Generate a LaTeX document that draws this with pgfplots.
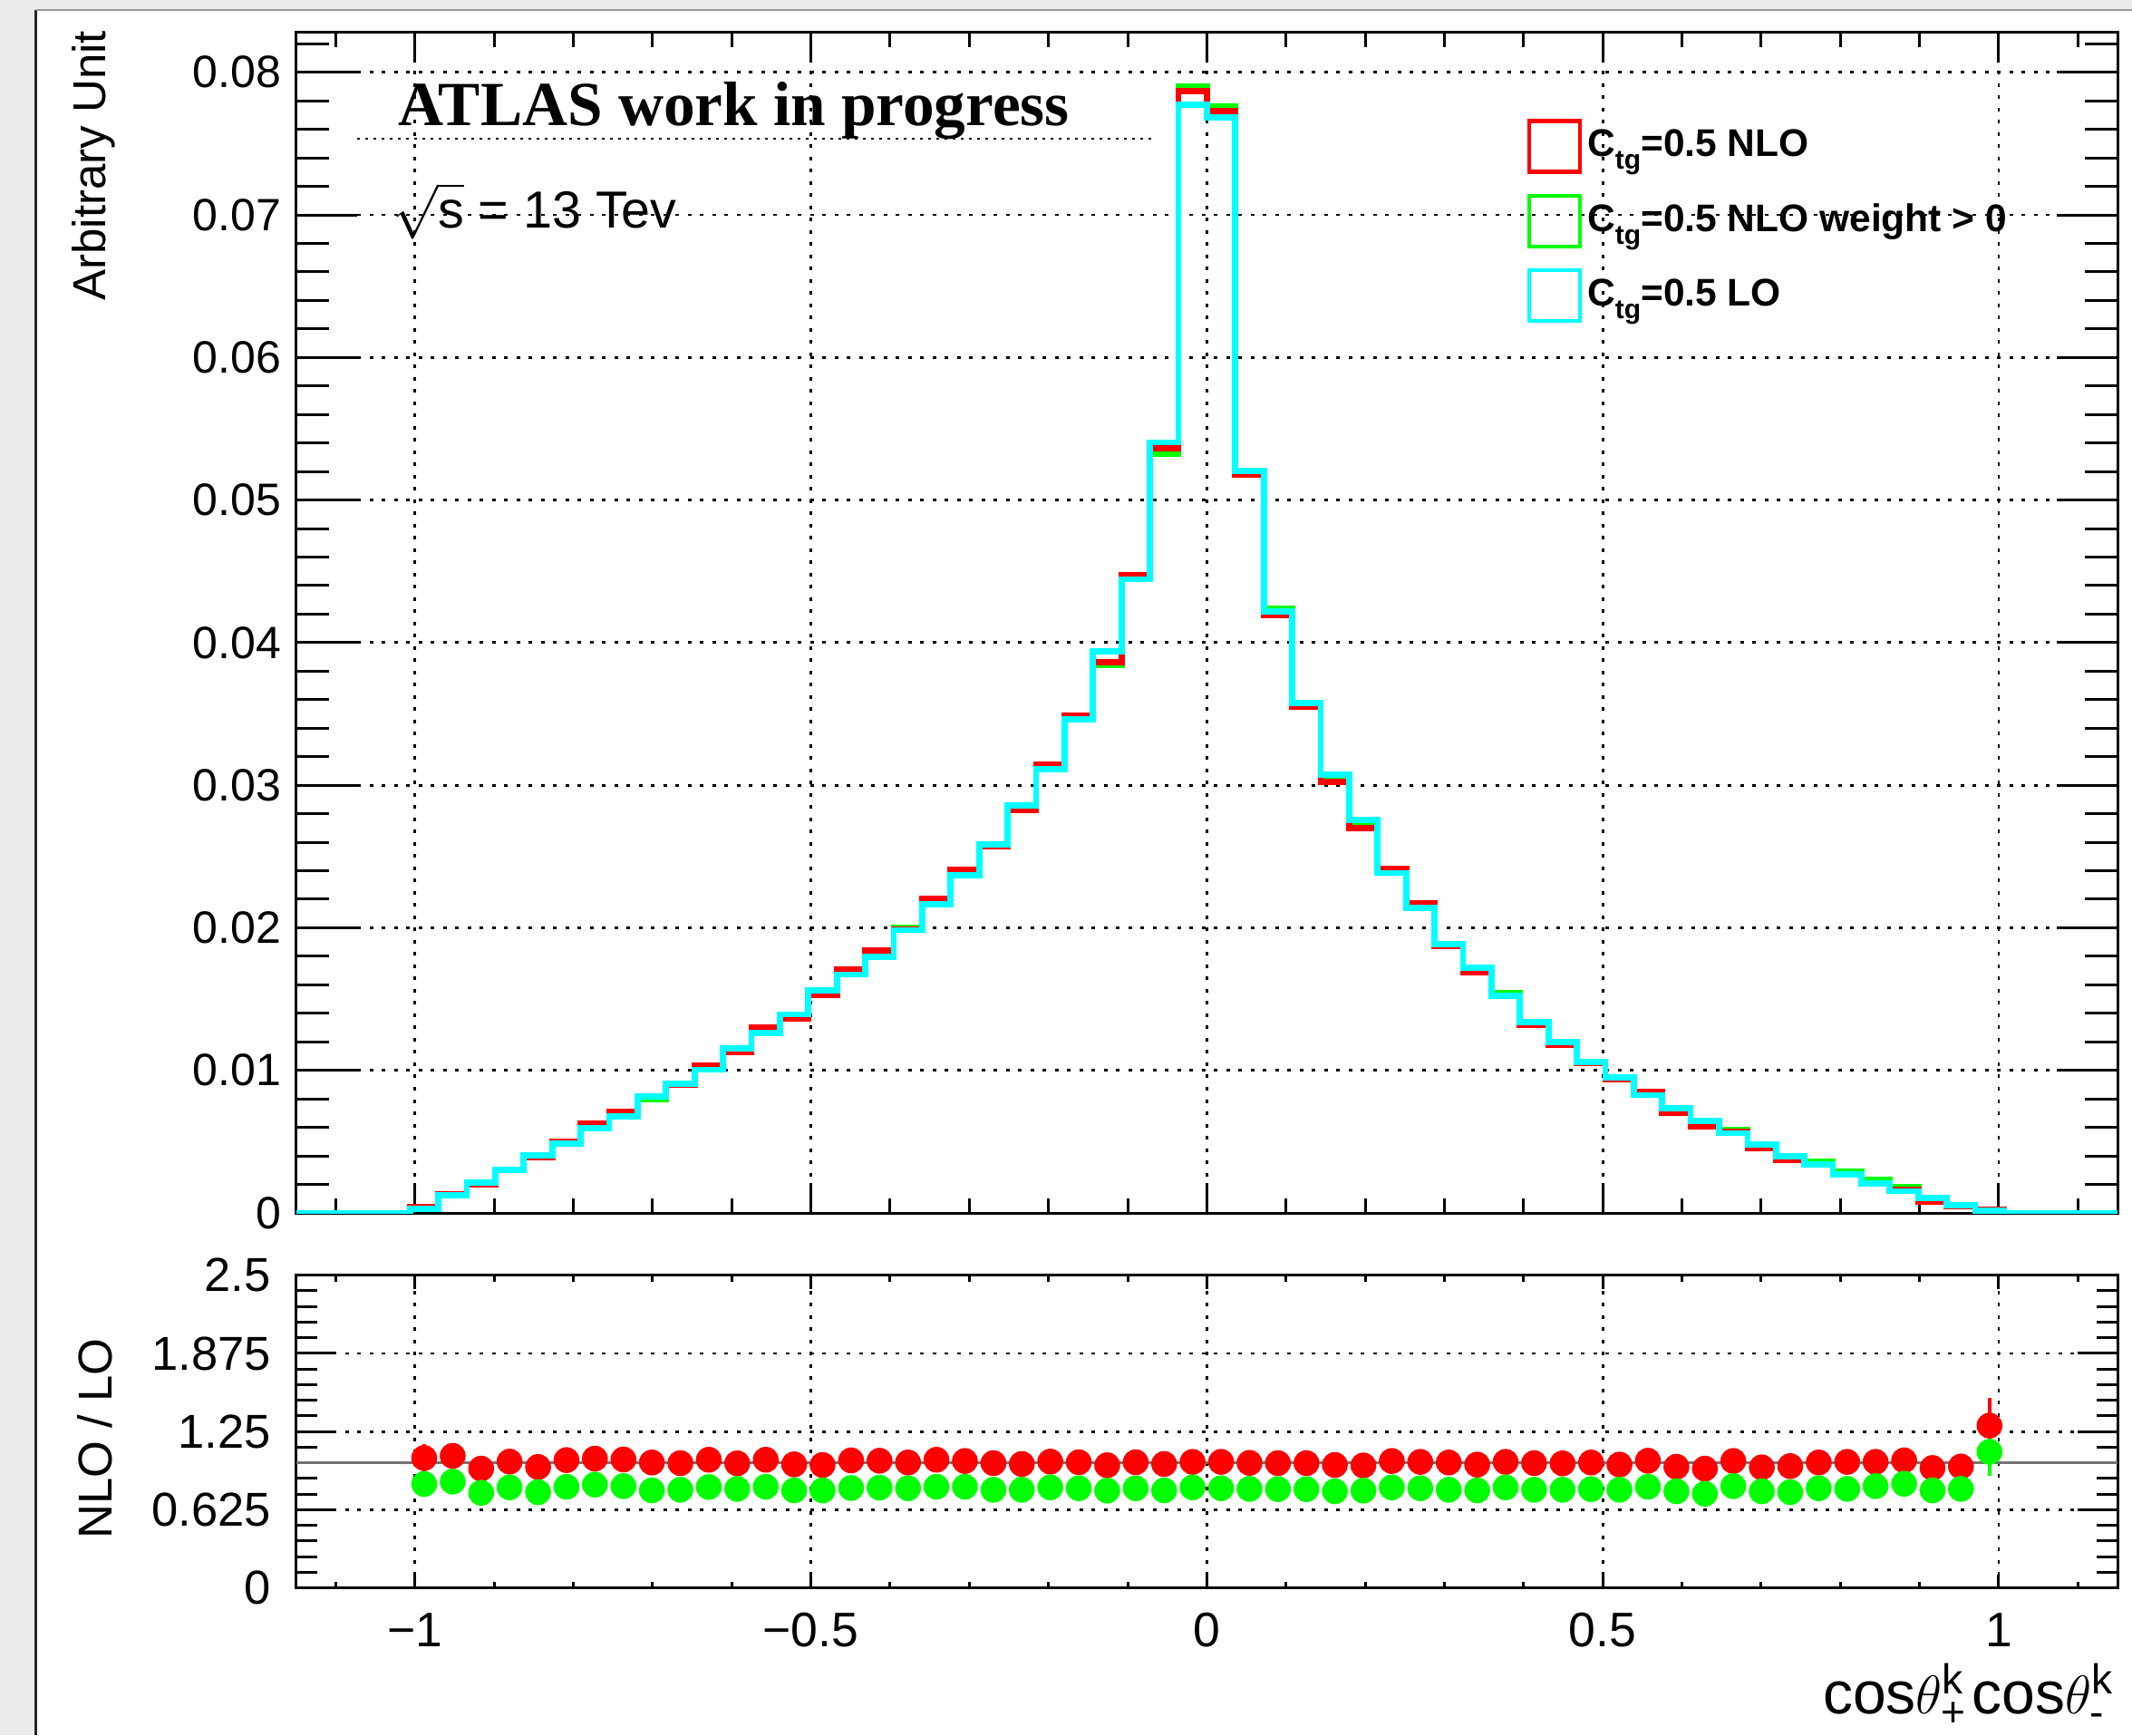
\documentclass[border=0pt]{standalone}
\usepackage{fontspec}
\setmainfont{Liberation Sans}
\newfontfamily\timesfont{Liberation Serif}
\usepackage{amsmath}
\usepackage{pgfplots}
\usepackage{pgfplotstable}
\pgfplotsset{compat=1.18}

\definecolor{rootred}{RGB}{255,0,0}
\definecolor{rootgreen}{RGB}{0,255,0}
\definecolor{rootcyan}{RGB}{0,255,255}

% bin left edges (64 bins from -1.15 to 1.15), NLO, NLO weight>0, LO
\pgfplotstableread{
edge nlo nlow lo
-1.15 0 0 0
-1.1141 0 0 0
-1.0781 0 0 0
-1.0422 0 0 0
-1.0063 0.0004 0.0004 0.0003
-0.9703 0.0013 0.0013 0.00125
-0.9344 0.0020 0.0021 0.00215
-0.8984 0.0030 0.0030 0.0030
-0.8625 0.0039 0.0040 0.00404
-0.8266 0.0050 0.0049 0.00486
-0.7906 0.00628 0.0062 0.00596
-0.7547 0.00708 0.0070 0.00676
-0.7188 0.00816 0.0080 0.00816
-0.6828 0.00898 0.0090 0.00906
-0.6469 0.01037 0.0103 0.01004
-0.6109 0.0113 0.0114 0.01154
-0.575 0.0130 0.0129 0.0126
-0.5391 0.0136 0.0137 0.01393
-0.5031 0.0153 0.0154 0.0156
-0.4672 0.01708 0.0170 0.01672
-0.4313 0.01839 0.0183 0.01798
-0.3953 0.0199 0.0200 0.01983
-0.3594 0.02207 0.0220 0.02165
-0.3234 0.02406 0.0240 0.02367
-0.2875 0.0257 0.0258 0.02586
-0.2516 0.02825 0.0284 0.02859
-0.2156 0.03144 0.0314 0.03114
-0.1797 0.0349 0.0348 0.03462
-0.1438 0.03864 0.0384 0.03937
-0.1078 0.04472 0.0446 0.04445
-0.0719 0.05364 0.05326 0.05404
-0.0359 0.07866 0.0790 0.07775
0 0.07728 0.07758 0.07685
0.0359 0.05177 0.0519 0.05206
0.0719 0.0419 0.0424 0.0422
0.1078 0.0355 0.0356 0.03577
0.1438 0.03022 0.0303 0.03075
0.1797 0.02701 0.0271 0.02754
0.2156 0.02414 0.0240 0.02384
0.2516 0.0217 0.0216 0.02141
0.2875 0.0187 0.0188 0.01886
0.3234 0.0169 0.0170 0.0172
0.3594 0.0152 0.0154 0.01521
0.3953 0.0132 0.0133 0.01338
0.4313 0.0118 0.0119 0.01197
0.4672 0.0105 0.0105 0.0106
0.5031 0.0094 0.0095 0.0095
0.5391 0.0085 0.0084 0.00826
0.575 0.00702 0.0072 0.00733
0.6109 0.00609 0.0062 0.00644
0.6469 0.0057 0.0058 0.0056
0.6828 0.00452 0.0046 0.0048
0.7188 0.0037 0.0038 0.00395
0.7547 0.0034 0.0036 0.00338
0.7906 0.0027 0.0029 0.00268
0.8266 0.0021 0.0023 0.00209
0.8625 0.0016 0.0018 0.00152
0.8984 0.0008 0.0010 0.00104
0.9344 0.0005 0.0005 0.00053
0.9703 0.0002 0.0002 0.00017
1.0063 0 0 0
1.0422 0 0 0
1.0781 0 0 0
1.1141 0 0 0
1.15 0 0 0
}\histtab

% bin centres, NLO/LO and (NLO weight>0)/LO with errors
\pgfplotstableread{
x rn rnerr rw rwerr
-0.9883 1.039 0.11 0.831 0.05
-0.9523 1.056 0.07 0.850 0.05
-0.9164 0.954 0.05 0.761 0.05
-0.8805 1.010 0.05 0.804 0.05
-0.8445 0.967 0.05 0.766 0.05
-0.8086 1.022 0.05 0.809 0.05
-0.7727 1.034 0.05 0.826 0.05
-0.7367 1.027 0.05 0.814 0.05
-0.7008 1.003 0.05 0.780 0.05
-0.6648 0.998 0.05 0.785 0.05
-0.6289 1.025 0.05 0.807 0.05
-0.5930 0.996 0.05 0.792 0.05
-0.5570 1.025 0.05 0.809 0.05
-0.5211 0.988 0.05 0.780 0.05
-0.4852 0.983 0.05 0.780 0.05
-0.4492 1.020 0.05 0.799 0.05
-0.4133 1.017 0.05 0.802 0.05
-0.3773 1.003 0.05 0.797 0.05
-0.3414 1.025 0.05 0.809 0.05
-0.3055 1.015 0.05 0.809 0.05
-0.2695 0.998 0.05 0.785 0.05
-0.2336 0.991 0.05 0.785 0.05
-0.1977 1.010 0.05 0.804 0.05
-0.1617 1.005 0.05 0.797 0.05
-0.1258 0.981 0.05 0.778 0.05
-0.0898 1.005 0.05 0.797 0.05
-0.0539 0.991 0.05 0.780 0.05
-0.0180 1.008 0.05 0.804 0.05
0.0180 1.008 0.05 0.797 0.05
0.0539 1.000 0.05 0.792 0.05
0.0898 0.998 0.05 0.790 0.05
0.1258 0.998 0.05 0.790 0.05
0.1617 0.983 0.05 0.773 0.05
0.1977 0.979 0.05 0.778 0.05
0.2336 1.015 0.05 0.804 0.05
0.2695 1.008 0.05 0.797 0.05
0.3055 1.003 0.05 0.785 0.05
0.3414 0.986 0.05 0.780 0.05
0.3773 1.008 0.05 0.804 0.05
0.4133 0.998 0.05 0.785 0.05
0.4492 0.996 0.05 0.785 0.05
0.4852 1.003 0.05 0.790 0.05
0.5211 0.986 0.05 0.785 0.05
0.5570 1.017 0.05 0.809 0.05
0.5930 0.969 0.05 0.773 0.05
0.6289 0.954 0.05 0.753 0.05
0.6648 1.015 0.05 0.814 0.05
0.7008 0.964 0.05 0.773 0.05
0.7367 0.974 0.05 0.766 0.05
0.7727 1.003 0.05 0.797 0.05
0.8086 1.008 0.05 0.792 0.05
0.8445 1.008 0.05 0.814 0.05
0.8805 1.020 0.05 0.833 0.05
0.9164 0.959 0.05 0.780 0.05
0.9523 0.971 0.05 0.792 0.05
0.9883 1.298 0.218 1.088 0.195
}\ratiotab

\pgfplotsset{
  rootaxis/.style={
    scale only axis, anchor=south west,
    xmin=-1.15, xmax=1.15,
    axis line style={line width=0.6pt},
    tick style={black, line width=0.6pt},
    tick align=inside, tick pos=both,
    xtick={-1,-0.5,0,0.5,1},
    minor xtick={-1.1,-0.9,-0.8,-0.7,-0.6,-0.4,-0.3,-0.2,-0.1,0.1,0.2,0.3,0.4,0.6,0.7,0.8,0.9,1.1},
    grid=major,
    major grid style={black, line width=0.55pt, dash pattern=on 0.8pt off 1.9pt},
    scaled y ticks=false,
  },
}

\begin{document}
\begin{tikzpicture}
\path[use as bounding box] (0,0) rectangle (470.4pt,382.8pt);
\fill[white] (0,0) rectangle (470.4pt,382.8pt);
\fill[black!8] (0,0) rectangle (7.6pt,382.8pt);
\fill[black!8] (0,380.6pt) rectangle (470.4pt,382.8pt);
\draw[black!85, line width=0.6pt] (7.9pt,0) -- (7.9pt,380.6pt);
\draw[black!40, line width=0.4pt] (7.9pt,380.5pt) -- (470.4pt,380.5pt);

% upper panel
\begin{axis}[rootaxis,
  at={(65.34pt,115.2pt)}, width=401.86pt, height=260.46pt,
  ymin=0, ymax=0.0828,
  xticklabels={},
  ytick={0,0.01,0.02,0.03,0.04,0.05,0.06,0.07,0.08},
  yticklabels={0,0.01,0.02,0.03,0.04,0.05,0.06,0.07,0.08},
  minor ytick={0,0.002,...,0.0825},
  every major x tick/.append style={/pgfplots/major tick length=6.6pt},
  every minor x tick/.append style={/pgfplots/minor tick length=3.3pt},
  every major y tick/.append style={/pgfplots/major tick length=13.4pt},
  every minor y tick/.append style={/pgfplots/minor tick length=7.3pt},
  yticklabel style={font=\fontsize{10}{12}\selectfont, anchor=east, inner sep=0pt, xshift=-3.1pt},
  legend image code/.code={\draw[line width=0.85pt] (0pt,-5.6pt) rectangle (11.2pt,5.6pt);},
  legend cell align=left,
  legend style={at={(0.676,0.9265)}, anchor=north west, draw=none, fill=none,
    inner sep=0pt, outer sep=0pt, row sep=4.4pt,
    font=\fontsize{8.5}{10}\selectfont\bfseries,
    nodes={inner sep=0pt},
    /tikz/every odd column/.style={column sep=1.2pt}},
]
\addplot[const plot mark left, rootgreen, line width=1.35pt, forget plot] table[x=edge, y=nlow] {\histtab};
\addplot[const plot mark left, rootred, line width=1.35pt, forget plot] table[x=edge, y=nlo] {\histtab};
\addplot[const plot mark left, rootcyan, line width=1.35pt, forget plot] table[x=edge, y=lo] {\histtab};
\addlegendimage{draw=rootred}
\addlegendentry{C\raisebox{-2.8pt}{\fontsize{6}{7}\selectfont tg}=0.5 NLO}
\addlegendimage{draw=rootgreen}
\addlegendentry{C\raisebox{-2.8pt}{\fontsize{6}{7}\selectfont tg}=0.5 NLO weight {>} 0}
\addlegendimage{draw=rootcyan}
\addlegendentry{C\raisebox{-2.8pt}{\fontsize{6}{7}\selectfont tg}=0.5 LO}
\end{axis}

% ratio panel
\begin{axis}[rootaxis,
  at={(65.34pt,32.46pt)}, width=401.86pt, height=69pt,
  ymin=0, ymax=2.5,
  xticklabels={−1,−0.5,0,0.5,1},
  ytick={0,0.625,1.25,1.875,2.5},
  yticklabels={0,0.625,1.25,1.875,2.5},
  minor ytick={0,0.125,...,2.51},
  every major x tick/.append style={/pgfplots/major tick length=3pt},
  every minor x tick/.append style={/pgfplots/minor tick length=1.4pt},
  every major y tick/.append style={/pgfplots/major tick length=8.8pt},
  every minor y tick/.append style={/pgfplots/minor tick length=4.6pt},
  xticklabel style={font=\fontsize{10.7}{12}\selectfont, anchor=north, inner sep=0pt, yshift=-5.3pt},
  yticklabel style={font=\fontsize{10.5}{12}\selectfont, anchor=east, inner sep=0pt, xshift=-5.4pt},
]
\addplot[only marks, mark=*, mark size=2.65pt, color=rootred,
  error bars/.cd, y dir=both, y explicit, error mark=none,
  error bar style={line width=0.8pt, rootred}]
  table[x=x, y=rn, y error=rnerr] {\ratiotab};
\addplot[only marks, mark=*, mark size=2.65pt, color=rootgreen,
  error bars/.cd, y dir=both, y explicit, error mark=none,
  error bar style={line width=0.8pt, rootgreen}]
  table[x=x, y=rw, y error=rwerr] {\ratiotab};
\addplot[black!55, line width=0.67pt] coordinates {(-1.15,1) (1.15,1)};
\end{axis}

% texts
\node[anchor=base west, inner sep=0pt, font=\timesfont\bfseries\fontsize{13.85}{15}\selectfont] at (87.6pt,355.1pt) {ATLAS work in progress};
\draw[black, line width=0.5pt, dash pattern=on 0.6pt off 1.2pt] (78.8pt,352.2pt) -- (254.6pt,352.2pt);
\node[anchor=base west, inner sep=0pt, font=\fontsize{11.5}{13}\selectfont] at (86.4pt,332.5pt) {$\sqrt{\mbox{s}}$ = 13 Tev};
\node[rotate=90, anchor=base east, inner sep=0pt, font=\fontsize{10.2}{12}\selectfont] at (23.3pt,376.2pt) {Arbitrary Unit};
\node[rotate=90, anchor=base, inner sep=0pt, font=\fontsize{10.5}{12}\selectfont] at (24.6pt,65.4pt) {NLO / LO};
\node[anchor=base east, inner sep=0pt, font=\fontsize{13.2}{14}\selectfont] at (466.8pt,4.8pt) {cos$\theta^{\text{k}}_{\text{+}}$\kern1pt cos$\theta^{\text{k}}_{\text{-}}$};
\end{tikzpicture}
\end{document}
